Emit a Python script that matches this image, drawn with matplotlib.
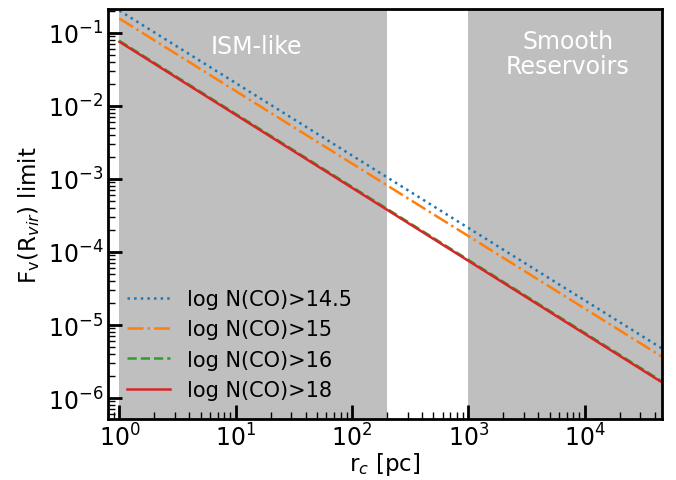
import numpy as np
import matplotlib
matplotlib.use("Agg")
import matplotlib.pyplot as plt

# Data (power-law limits, values at r_c = 1 and 4.6e4 pc)
r_c = [1.0, 4.6e4]
f_145 = [0.20, 4.8e-6]
f_15 = [0.156, 3.7e-6]
f_16 = [0.077, 1.7e-6]
f_18 = [0.075, 1.65e-6]
labels = ["log N(CO)>14.5", "log N(CO)>15", "log N(CO)>16", "log N(CO)>18"]
ism_range = [1.0, 200.0]
smooth_range = [1000.0, 4.6e4]

fig = plt.figure(figsize=(6.76, 4.81), dpi=100)
ax = fig.add_axes([0.16, 0.127, 0.819, 0.852])

ax.axvspan(ism_range[0], ism_range[1], color="#bfbfbf", lw=0, zorder=0)
ax.axvspan(smooth_range[0], smooth_range[1], color="#bfbfbf", lw=0, zorder=0)

ax.plot(r_c, f_145, ls=":", color="#1f77b4", lw=1.8, label=labels[0])
ax.plot(r_c, f_15, ls="-.", color="#ff7f0e", lw=1.8, label=labels[1])
ax.plot(r_c, f_16, ls="--", color="#2ca02c", lw=1.8, label=labels[2])
ax.plot(r_c, f_18, ls="-", color="#d62728", lw=1.8, label=labels[3])

ax.set_xscale("log")
ax.set_yscale("log")
ax.set_xlim(0.8, 4.6e4)
ax.set_ylim(5.2e-7, 0.21)

ax.text(15, 0.066, "ISM-like", color="white", fontsize=17, ha="center", va="center")
ax.text(7150, 0.0515, "Smooth\nReservoirs", color="white", fontsize=17, ha="center", va="center",
        linespacing=1.05)

ax.set_xlabel(r"r$_c$ [pc]", fontsize=16.5, labelpad=-1)
ax.set_ylabel(r"F$_\mathrm{v}$(R$_{vir}$) limit", fontsize=16.5)

for s in ax.spines.values():
    s.set_linewidth(2)
ax.tick_params(which="major", direction="in", length=10, width=2, labelsize=17, top=False, right=False)
ax.tick_params(which="minor", direction="in", length=5, width=1, top=False, right=False)
ax.xaxis.set_minor_locator(matplotlib.ticker.LogLocator(base=10, subs=np.arange(2, 10), numticks=20))
ax.yaxis.set_minor_locator(matplotlib.ticker.LogLocator(base=10, subs=np.arange(2, 10), numticks=20))
ax.xaxis.set_minor_formatter(matplotlib.ticker.NullFormatter())
ax.yaxis.set_minor_formatter(matplotlib.ticker.NullFormatter())

ax.legend(loc="lower left", frameon=False, fontsize=15, handlelength=2.07,
          bbox_to_anchor=(0.0, 0.0), labelspacing=0.5)

fig.savefig("out.png", dpi=100)
